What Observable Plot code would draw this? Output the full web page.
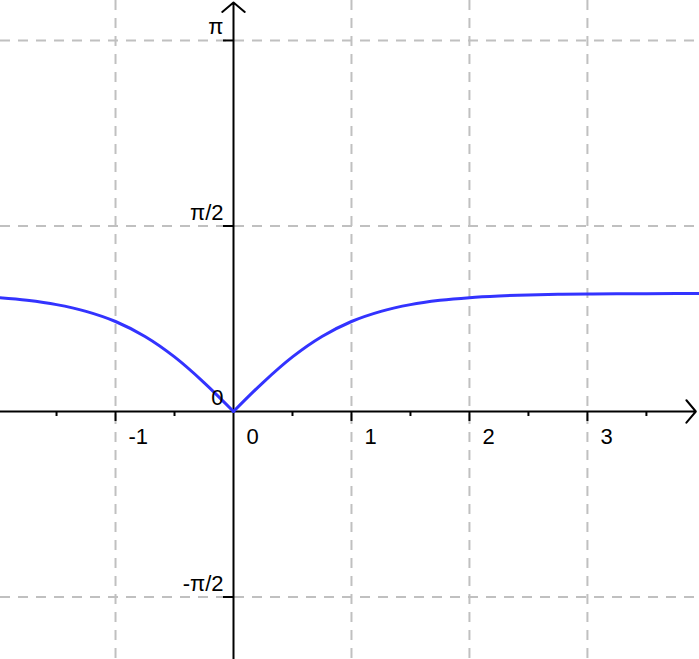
<!DOCTYPE html>
<html>
<head>
<meta charset="utf-8">
<script src="https://cdn.jsdelivr.net/npm/d3@7"></script>
<script src="https://cdn.jsdelivr.net/npm/@observablehq/plot@0.6"></script>
<style>
  html, body { margin: 0; padding: 0; background: #fff; }
  #chart svg { display: block; }
</style>
</head>
<body>
<div id="chart"></div>
<script>
// Curve samples (left and right branch meet in a cusp at 0)
const leftX  = [-2.0, -1.75, -1.5, -1.25, -1.0, -0.75, -0.5, -0.25, 0];
const leftY  = [0.964, 0.941, 0.905, 0.848, 0.762, 0.635, 0.462, 0.245, 0];
const rightX = [0, 0.25, 0.5, 0.75, 1.0, 1.25, 1.5, 1.75, 2.0, 2.25, 2.5, 2.75, 3.0, 3.25, 3.5, 3.75, 4.0];
const rightY = [0, 0.245, 0.462, 0.635, 0.762, 0.848, 0.905, 0.941, 0.964, 0.978, 0.987, 0.992, 0.995, 0.997, 0.998, 0.999, 0.999];

// Axes, grid and tick labels
const xGrid = [-1, 0, 1, 2, 3];
const xMajorTicks = [-1, 1, 2, 3];
const xMinorTicks = [-1.5, -0.5, 0.5, 1.5, 2.5, 3.5];
const xTickLabels = ["-1", "0", "1", "2", "3"];
const yGrid = [Math.PI, Math.PI / 2, -Math.PI / 2];
const yTickValues = [Math.PI, Math.PI / 2, 0, -Math.PI / 2];
const yTickLabels = ["π", "π/2", "0", "-π/2"];

const curve = [
  ...leftX.map((x, i) => ({x, y: leftY[i], branch: "left"})),
  ...rightX.map((x, i) => ({x, y: rightY[i], branch: "right"}))
];
const xLabelData = xGrid.map((v, i) => ({v, label: xTickLabels[i]}));
const yLabelData = yTickValues.map((v, i) => ({v, label: yTickLabels[i]}));

const xMin = -1.975, xMax = 3.95, yMin = -2.1, yMax = 3.48;

const grid = {stroke: "#c0c0c0", strokeWidth: 2, strokeDasharray: "10,8"};
const font = "'Liberation Sans', Arial, sans-serif";

const chart = Plot.plot({
  width: 699,
  height: 659,
  margin: 0,
  style: {fontFamily: font, background: "#fff"},
  x: {domain: [xMin, xMax], axis: null},
  y: {domain: [yMin, yMax], axis: null},
  marks: [
    Plot.ruleX(xGrid.filter(d => d !== 0), {x: d => d, ...grid}),
    Plot.ruleY(yGrid, {y: d => d, ...grid}),
    // x axis with arrow
    Plot.arrow([{x1: xMin, x2: 3.919, y1: 0, y2: 0}], {
      x1: "x1", y1: "y1", x2: "x2", y2: "y2",
      stroke: "black", strokeWidth: 2, headLength: 11, headAngle: 100
    }),
    // y axis with arrow
    Plot.arrow([{x1: 0, x2: 0, y1: yMin, y2: 3.463}], {
      x1: "x1", y1: "y1", x2: "x2", y2: "y2",
      stroke: "black", strokeWidth: 2, headLength: 11, headAngle: 100
    }),
    // x ticks (below the axis)
    Plot.ruleX(xMajorTicks, {x: d => d, y1: () => 0, y2: () => 0, insetBottom: -10, stroke: "black", strokeWidth: 2}),
    Plot.ruleX(xMinorTicks, {x: d => d, y1: () => 0, y2: () => 0, insetBottom: -5, stroke: "black", strokeWidth: 2}),
    // y ticks (left of the axis)
    Plot.ruleY(yGrid, {y: d => d, x1: () => 0, x2: () => 0, insetLeft: -10, stroke: "black", strokeWidth: 2}),
    // curve
    Plot.line(curve, {x: "x", y: "y", z: "branch", stroke: "#3333ff", strokeWidth: 3, curve: "catmull-rom", clip: true}),
    // tick labels
    Plot.text(xLabelData, {x: "v", y: () => 0, text: "label", textAnchor: "start", lineAnchor: "top", dx: 13, dy: 17, fill: "black", fontSize: 22, fontFamily: font}),
    Plot.text(yLabelData, {x: () => 0, y: "v", text: "label", textAnchor: "end", lineAnchor: "bottom", dx: -10, dy: -6, fill: "black", fontSize: 22, fontFamily: font})
  ]
});
document.getElementById("chart").appendChild(chart);
</script>
</body>
</html>
